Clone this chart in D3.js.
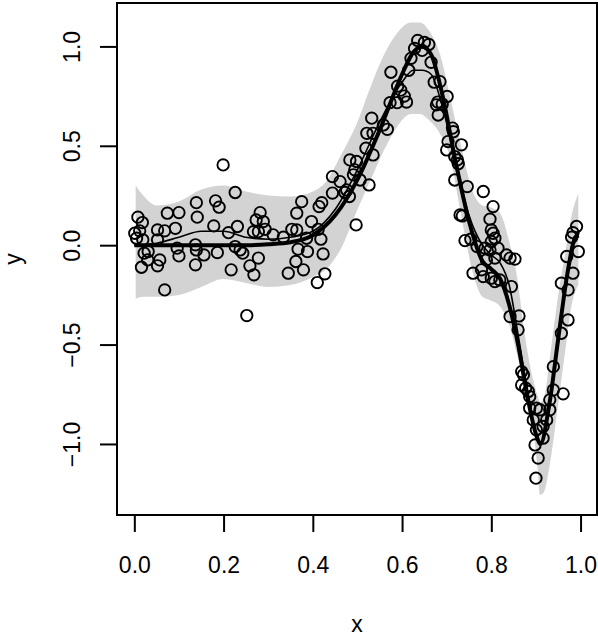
<!DOCTYPE html>
<html>
<head>
<meta charset="utf-8">
<script src="https://cdn.jsdelivr.net/npm/d3@7"></script>
<style>
  body { margin: 0; background: #fff; }
  svg { display: block; }
  text { font-family: "Liberation Sans", Arial, Helvetica, sans-serif; }
</style>
</head>
<body>
<div id="chart"></div>
<script>
// Datos: puntos observados
var puntosX = [0.199,0.226,0.139,0.182,0.190,0.074,0.100,0.141,0.008,0.018,0.052,0.068,0.092,0.178,0.211,0.001,0.012,0.019,0.052,0.096,0.100,0.137,0.139,0.156,0.186,0.031,0.030,0.057,0.052,0.016,0.137,0.217,0.068,0.005,0.022,
  0.444,0.461,0.472,0.444,0.375,0.420,0.414,0.282,0.364,0.273,0.289,0.231,0.397,0.293,0.278,0.267,0.311,0.334,0.353,0.364,0.386,0.412,0.418,0.226,0.237,0.243,0.367,0.388,0.423,0.278,0.259,0.268,0.362,0.379,0.345,0.427,0.410,0.252,
  0.573,0.589,0.532,0.558,0.567,0.521,0.535,0.519,0.535,0.483,0.498,0.494,0.491,0.506,0.526,0.476,0.482,0.497,0.677,0.681,0.703,0.700,0.715,0.718,0.718,0.730,
  0.685,0.701,0.713,0.733,0.724,0.726,0.746,0.782,
  0.804,0.797,0.735,0.800,0.804,0.808,0.800,0.741,0.754,0.768,0.786,0.797,0.789,0.808,0.815,0.834,0.842,0.853,0.759,0.778,0.782,0.800,0.808,0.819,0.845,0.842,0.862,0.860,0.991,0.983,0.980,0.995,0.969,0.983,0.957,0.972,0.972,0.957,
  0.868,0.872,0.868,0.877,0.883,0.886,0.886,0.901,0.909,0.894,0.901,0.916,0.898,0.905,0.900,0.939,0.961,0.939,0.931,0.931,0.924,0.916,
  0.575,0.590,0.597,0.605,0.615,0.620,0.628,0.635,0.650,0.660,0.645,0.610,0.665,0.672,0.680,0.690];
var puntosY = [0.404,0.265,0.214,0.223,0.191,0.161,0.164,0.141,0.141,0.114,0.077,0.072,0.085,0.097,0.063,0.060,0.072,0.027,0.027,-0.015,-0.054,0.002,-0.024,-0.049,-0.037,-0.032,-0.074,-0.074,-0.104,-0.111,-0.099,-0.124,-0.225,0.035,-0.040,
  0.345,0.320,0.265,0.262,0.219,0.214,0.194,0.164,0.161,0.127,0.119,0.094,0.119,0.080,0.068,0.068,0.052,0.040,0.080,0.077,0.035,0.080,0.030,-0.007,-0.024,-0.040,-0.020,-0.032,-0.044,-0.065,-0.104,-0.149,-0.082,-0.124,-0.141,-0.144,-0.188,-0.354,
  0.717,0.717,0.639,0.605,0.583,0.563,0.563,0.488,0.454,0.429,0.421,0.379,0.354,0.328,0.303,0.278,0.245,0.102,0.706,0.655,0.521,0.479,0.571,0.446,0.328,0.152,
  0.823,0.748,0.589,0.505,0.429,0.410,0.295,0.270,
  0.194,0.131,0.147,0.077,0.060,0.035,0.018,0.023,0.030,-0.007,-0.015,-0.024,-0.074,-0.065,-0.015,-0.049,-0.065,-0.070,-0.141,-0.124,-0.158,-0.166,-0.183,-0.175,-0.208,-0.359,-0.356,-0.426,0.094,0.063,0.040,-0.032,-0.057,-0.141,-0.191,-0.225,-0.376,-0.443,
  -0.636,-0.652,-0.703,-0.719,-0.736,-0.762,-0.820,-0.820,-0.828,-0.879,-0.929,-0.971,-1.005,-1.071,-1.172,-0.611,-0.748,-0.728,-0.778,-0.828,-0.879,-0.912,
  0.870,0.800,0.780,0.750,0.880,0.940,0.990,1.030,1.020,1.010,0.980,0.720,0.920,0.820,0.720,0.710];

// Curvas: funcion real (gruesa) y ajuste (fina)
var curvaX      = [0.000,0.050,0.100,0.150,0.200,0.250,0.300,0.350,0.400,0.450,0.500,0.550,0.600,0.625,0.645,0.665,0.690,0.720,0.750,0.780,0.800,0.820,0.840,0.860,0.880,0.900,0.910,0.930,0.950,0.970,0.985,0.995];
var curvaReal   = [0.000,0.000,0.000,0.000,0.000,0.000,0.005,0.015,0.050,0.150,0.330,0.580,0.860,0.970,1.000,0.960,0.760,0.420,0.120,-0.080,-0.120,-0.170,-0.300,-0.500,-0.750,-0.950,-1.000,-0.800,-0.470,-0.150,0.020,0.050];
var curvaAjuste = [0.000,0.010,0.040,0.070,0.070,0.040,0.030,0.040,0.070,0.180,0.380,0.620,0.820,0.880,0.880,0.860,0.700,0.420,0.150,0.000,-0.050,-0.090,-0.200,-0.450,-0.720,-0.950,-1.000,-0.800,-0.450,-0.150,0.040,0.060];

// Banda de confianza
var bandaX   = [0.003,0.020,0.050,0.100,0.150,0.200,0.250,0.300,0.350,0.400,0.430,0.460,0.500,0.530,0.560,0.590,0.620,0.640,0.660,0.685,0.710,0.730,0.760,0.780,0.800,0.820,0.840,0.857,0.875,0.894,0.904,0.909,0.916,0.935,0.950,0.965,0.980,0.995];
var bandaSup = [0.300,0.250,0.200,0.220,0.280,0.300,0.270,0.250,0.245,0.270,0.320,0.440,0.620,0.800,0.960,1.070,1.120,1.120,1.080,0.960,0.720,0.520,0.260,0.200,0.190,0.160,0.020,-0.150,-0.450,-0.680,-0.760,-0.790,-0.780,-0.500,-0.250,-0.050,0.150,0.260];
var bandaInf = [-0.270,-0.260,-0.260,-0.250,-0.210,-0.170,-0.190,-0.210,-0.200,-0.160,-0.120,-0.030,0.180,0.330,0.480,0.600,0.660,0.660,0.630,0.560,0.420,0.180,-0.150,-0.260,-0.280,-0.310,-0.400,-0.543,-0.711,-0.929,-1.130,-1.256,-1.248,-1.047,-0.795,-0.543,-0.300,-0.200];

// Ticks
var ticksX = [0.0, 0.2, 0.4, 0.6, 0.8, 1.0];
var ticksY = [-1.0, -0.5, 0.0, 0.5, 1.0];

// Dimensiones (caja del grafico)
var width = 598, height = 636;
var caja = { left: 117, right: 597, top: 3, bottom: 515 };

// Limites estilo R: rango de datos + 4% a cada lado
var xLim = [0.001, 0.997];
var yLim = [-1.262, 1.123];
function extender(lim) {
  var d = (lim[1] - lim[0]) * 0.04;
  return [lim[0] - d, lim[1] + d];
}

var x = d3.scaleLinear().domain(extender(xLim)).range([caja.left, caja.right]);
var y = d3.scaleLinear().domain(extender(yLim)).range([caja.bottom, caja.top]);

var svg = d3.select("#chart").append("svg")
  .attr("width", width)
  .attr("height", height);

svg.append("rect").attr("width", width).attr("height", height).attr("fill", "#fff");

// Banda gris
var datosBanda = bandaX.map(function(d, i) { return { x: d, lo: bandaInf[i], hi: bandaSup[i] }; });
var area = d3.area()
  .x(function(d) { return x(d.x); })
  .y0(function(d) { return y(d.lo); })
  .y1(function(d) { return y(d.hi); })
  .curve(d3.curveMonotoneX);

svg.append("path")
  .datum(datosBanda)
  .attr("fill", "#d3d3d3")
  .attr("d", area);

// Puntos
svg.selectAll("circle.punto")
  .data(puntosX.map(function(d, i) { return [d, puntosY[i]]; }))
  .enter()
  .append("circle")
  .attr("class", "punto")
  .attr("cx", function(d) { return x(d[0]); })
  .attr("cy", function(d) { return y(d[1]); })
  .attr("r", 5.7)
  .attr("fill", "none")
  .attr("stroke", "#000")
  .attr("stroke-width", 1.9);

// Lineas
var linea = d3.line()
  .x(function(d) { return x(d[0]); })
  .y(function(d) { return y(d[1]); })
  .curve(d3.curveMonotoneX);

svg.append("path")
  .datum(curvaX.map(function(d, i) { return [d, curvaAjuste[i]]; }))
  .attr("fill", "none")
  .attr("stroke", "#000")
  .attr("stroke-width", 1.6)
  .attr("d", linea);

svg.append("path")
  .datum(curvaX.map(function(d, i) { return [d, curvaReal[i]]; }))
  .attr("fill", "none")
  .attr("stroke", "#000")
  .attr("stroke-width", 4)
  .attr("d", linea);

// Caja
svg.append("rect")
  .attr("x", caja.left)
  .attr("y", caja.top)
  .attr("width", caja.right - caja.left)
  .attr("height", caja.bottom - caja.top)
  .attr("fill", "none")
  .attr("stroke", "#000")
  .attr("stroke-width", 2);

// Eje X
var ejeX = svg.append("g")
  .attr("transform", "translate(0," + caja.bottom + ")")
  .call(d3.axisBottom(x).tickValues(ticksX).tickSize(17).tickPadding(25).tickFormat(d3.format(".1f")));
ejeX.select(".domain").remove();
ejeX.selectAll("line").attr("stroke-width", 2);
ejeX.selectAll("text").attr("font-size", 23).attr("fill", "#000").style("font-family", "Liberation Sans, Arial, sans-serif");

// Eje Y (etiquetas giradas como en R)
var ejeY = svg.append("g")
  .attr("transform", "translate(" + caja.left + ",0)")
  .call(d3.axisLeft(y).tickValues(ticksY).tickSize(17).tickFormat(function(d) { return d3.format(".1f")(d).replace("-", "\u2212"); }));
ejeY.select(".domain").remove();
ejeY.selectAll("line").attr("stroke-width", 2);
ejeY.selectAll("text")
  .attr("transform", "rotate(-90)")
  .attr("x", 0)
  .attr("y", -37)
  .attr("dy", 0)
  .attr("text-anchor", "middle")
  .attr("font-size", 23)
  .attr("fill", "#000")
  .style("font-family", "Liberation Sans, Arial, sans-serif");

// Titulos de ejes
svg.append("text")
  .attr("x", (caja.left + caja.right) / 2)
  .attr("y", 632)
  .attr("text-anchor", "middle")
  .attr("font-size", 23)
  .text("x");

svg.append("text")
  .attr("transform", "translate(21," + ((caja.top + caja.bottom) / 2) + ") rotate(-90)")
  .attr("text-anchor", "middle")
  .attr("font-size", 23)
  .text("y");
</script>
</body>
</html>
